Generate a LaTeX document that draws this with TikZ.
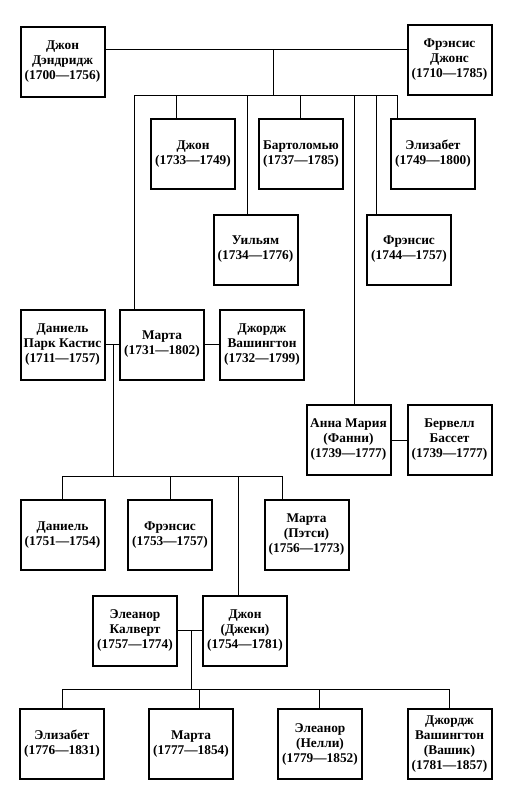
\documentclass[tikz,border=0pt]{standalone}
\usepackage{fontspec}
\setmainfont{Liberation Serif}

\tikzset{every picture/.style={line width=0.75pt}}
\tikzset{person/.style={draw, line width=1.5pt, minimum width=63pt, minimum height=52.5pt, inner sep=1pt, align=center, font=\bfseries\fontsize{10}{11.25}\selectfont}}

\begin{document}
\begin{tikzpicture}[x=0.75pt,y=0.75pt,yscale=-1,xscale=1]
	%set diagram left start at 0, and has height of 800
	\useasboundingbox (0,0) rectangle (525,800);

	% Text Node
	\node[person] (dandridge) at (62.5,62) {Джон\\Дэндридж\\(1700—1756)};
	% Text Node
	\node[person] (jones) at (449.5,59.5) {Фрэнсис\\Джонс\\(1710—1785)};
	% Text Node
	\node[person] (john) at (193,154) {Джон\\(1733—1749)};
	% Text Node
	\node[person] (bartholomew) at (301,154) {Бартоломью\\(1737—1785)};
	% Text Node
	\node[person] (elizabeth) at (433,154) {Элизабет\\(1749—1800)};
	% Text Node
	\node[person] (william) at (255.5,249.5) {Уильям\\(1734—1776)};
	% Text Node
	\node[person] (frances) at (409,249.5) {Фрэнсис\\(1744—1757)};
	% Text Node
	\node[person] (custis) at (62.5,344.5) {Даниель\\Парк Кастис\\(1711—1757)};
	% Text Node
	\node[person] (martha) at (162,344.5) {Марта\\(1731—1802)};
	% Text Node
	\node[person] (washington) at (262,344.5) {Джордж\\Вашингтон\\(1732—1799)};
	% Text Node
	\node[person] (annamaria) at (348.5,440) {Анна Мария\\(Фанни)\\(1739—1777)};
	% Text Node
	\node[person] (bassett) at (449.5,440) {Бервелл\\Бассет\\(1739—1777)};
	% Text Node
	\node[person] (daniel) at (62.5,535) {Даниель\\(1751—1754)};
	% Text Node
	\node[person] (francesjr) at (170,535) {Фрэнсис\\(1753—1757)};
	% Text Node
	\node[person] (patsy) at (306.5,535) {Марта\\(Пэтси)\\(1756—1773)};
	% Text Node
	\node[person] (calvert) at (135,630.5) {Элеанор\\Калверт\\(1757—1774)};
	% Text Node
	\node[person] (jacky) at (245,630.5) {Джон\\(Джеки)\\(1754—1781)};
	% Text Node
	\node[person] (elizabethjr) at (62,744) {Элизабет\\(1776—1831)};
	% Text Node
	\node[person] (marthajr) at (191,744) {Марта\\(1777—1854)};
	% Text Node
	\node[person] (nelly) at (320,744) {Элеанор\\(Нелли)\\(1779—1852)};
	% Text Node
	\node[person] (washy) at (449.5,744) {Джордж\\Вашингтон\\(Вашик)\\(1781—1857)};

	%Straight Lines [Дэндридж -- Джонс]
	\coordinate (couple1) at (273,49);
	\coordinate (kids1) at (273,95);
	\draw (couple1 -| dandridge.east) -- (couple1 -| jones.west);
	\draw (couple1) -- (kids1);
	\draw (kids1 -| 134,0) -- (kids1 -| 397,0);
	\foreach \n/\x in {martha/134,john/176,william/247,bartholomew/300,annamaria/354,frances/376,elizabeth/397}
		\draw (kids1 -| \x,0) -- (\n.north -| \x,0);

	%Straight Lines [Кастис -- Марта -- Вашингтон]
	\draw (custis.east) -- (martha.west);
	\draw (martha.east) -- (washington.west);
	\coordinate (kids2) at (113,476);
	\draw (custis.east -| kids2) -- (kids2);
	\draw (kids2 -| 62,0) -- (kids2 -| 282,0);
	\foreach \n/\x in {daniel/62.5,francesjr/170,jacky/238,patsy/282}
		\draw (kids2 -| \x,0) -- (\n.north -| \x,0);

	%Straight Lines [Анна Мария -- Бассет]
	\draw (annamaria.east) -- (bassett.west);

	%Straight Lines [Калверт -- Джеки]
	\draw (calvert.east) -- (jacky.west);
	\coordinate (kids3) at (191,689);
	\draw (calvert.east -| kids3) -- (kids3);
	\draw (kids3 -| 62,0) -- (kids3 -| 449.5,0);
	\foreach \n/\x in {elizabethjr/62,marthajr/199,nelly/319,washy/449.5}
		\draw (kids3 -| \x,0) -- (\n.north -| \x,0);

\end{tikzpicture}
\end{document}
